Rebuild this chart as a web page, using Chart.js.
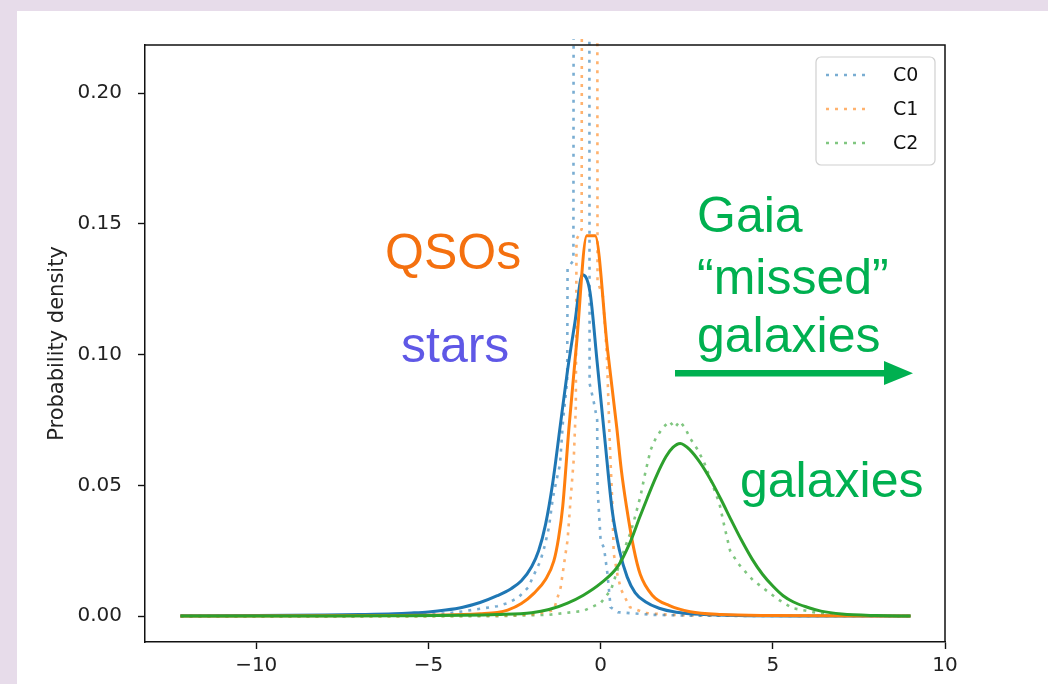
<!DOCTYPE html>
<html>
<head>
<meta charset="utf-8">
<script src="https://cdn.jsdelivr.net/npm/chart.js@4/dist/chart.umd.min.js"></script>
<style>
  html, body { margin: 0; padding: 0; background: #e7dcea; }
  canvas { display: block; }
</style>
</head>
<body>
<canvas id="chart" width="1048" height="684"></canvas>
<script>
// Axis ticks
const xTicks = [-10, -5, 0, 5, 10];
const yTicks = [0, 0.05, 0.10, 0.15, 0.20];

// Fitted densities (solid curves)
const starsFitX = [-12.2, -10, -8, -7, -6, -5.5, -5, -4.5, -4, -3.5, -3, -2.6, -2.3, -2, -1.8, -1.6, -1.39, -1.17, -0.96, -0.75, -0.53, -0.31, -0.1, 0.12, 0.34, 0.55, 0.77, 1.0, 1.3, 1.7, 2.2, 3, 4, 6, 9];
const starsFitY = [0.0001, 0.0002, 0.0004, 0.0006, 0.0009, 0.0012, 0.0016, 0.0023, 0.0034, 0.0052, 0.0078, 0.0105, 0.0135, 0.019, 0.025, 0.035, 0.051, 0.073, 0.094, 0.112, 0.1305, 0.124, 0.097, 0.068, 0.040, 0.025, 0.015, 0.009, 0.0055, 0.003, 0.0015, 0.0006, 0.0002, 0.00005, 0];

const qsoFitX = [-12.2, -8, -6, -5, -4, -3.5, -3, -2.7, -2.3, -1.93, -1.6, -1.36, -1.22, -1.1, -0.92, -0.7, -0.4, -0.16, 0.2, 0.47, 0.6, 0.75, 0.96, 1.15, 1.5, 2.0, 2.6, 3.5, 5, 9];
const qsoFitY = [0, 0.0001, 0.0002, 0.0003, 0.0006, 0.0009, 0.0014, 0.0023, 0.0048, 0.0088, 0.014, 0.021, 0.030, 0.042, 0.072, 0.104, 0.1455, 0.1455, 0.102, 0.072, 0.056, 0.042, 0.026, 0.016, 0.008, 0.004, 0.0017, 0.0006, 0.0002, 0];

const galaxyFitX = [-12.2, -8, -6, -4, -3, -2, -1.5, -0.96, -0.5, 0, 0.5, 0.85, 1.14, 1.35, 1.6, 1.9, 2.1, 2.31, 2.6, 2.9, 3.2, 3.5, 3.8, 4.1, 4.4, 4.7, 5.0, 5.3, 5.6, 6.0, 6.4, 7, 8, 9];
const galaxyFitY = [0, 0, 0.0001, 0.0003, 0.0006, 0.0013, 0.0025, 0.005, 0.008, 0.0125, 0.019, 0.028, 0.038, 0.045, 0.053, 0.061, 0.0645, 0.066, 0.0635, 0.0585, 0.052, 0.0445, 0.0365, 0.0288, 0.0218, 0.016, 0.0115, 0.0078, 0.0054, 0.0034, 0.0019, 0.0008, 0.0002, 0];

// Binned densities of the samples (dotted curves)
const starsHistX = [-12.2, -7, -5.5, -4.5, -4, -3.5, -3, -2.7, -2.4, -2.1, -1.93, -1.75, -1.62, -1.5, -1.39, -1.28, -1.18, -1.09, -0.97, -0.96, -0.79, -0.78, -0.55, -0.33, -0.32, -0.2, -0.1, -0.09, 0, 0.1, 0.2, 0.29, 0.5, 1, 1.5, 2.5, 4, 9];
const starsHistY = [0, 0.0001, 0.0005, 0.001, 0.0018, 0.0028, 0.0038, 0.005, 0.007, 0.011, 0.016, 0.021, 0.027, 0.034, 0.045, 0.052, 0.058, 0.075, 0.09, 0.133, 0.136, 0.30, 0.33, 0.30, 0.089, 0.082, 0.075, 0.049, 0.029, 0.026, 0.016, 0.0034, 0.0015, 0.001, 0.0005, 0.0002, 0.0001, 0];

const qsoHistX = [-12.2, -5, -3, -2, -1.6, -1.45, -1.36, -1.16, -1.05, -0.96, -0.87, -0.78, -0.72, -0.7, -0.55, -0.54, -0.3, -0.1, -0.09, 0.07, 0.18, 0.27, 0.34, 0.38, 0.5, 0.6, 0.85, 1.3, 2, 3, 9];
const qsoHistY = [0, 0, 0.0002, 0.0006, 0.0015, 0.002, 0.0023, 0.011, 0.021, 0.029, 0.045, 0.06, 0.08, 0.144, 0.148, 0.32, 0.35, 0.31, 0.128, 0.122, 0.10, 0.065, 0.043, 0.024, 0.015, 0.01, 0.0034, 0.0012, 0.0005, 0.0002, 0];

const galaxyHistX = [-12.2, -3, -1.5, -0.5, 0, 0.3, 0.5, 0.7, 0.87, 1.0, 1.16, 1.3, 1.45, 1.6, 1.8, 2.0, 2.15, 2.3, 2.45, 2.6, 2.8, 3.0, 3.2, 3.45, 3.6, 3.76, 4.0, 4.24, 4.42, 4.91, 5.2, 5.58, 6, 6.36, 7, 8, 9];
const galaxyHistY = [0, 0, 0.0005, 0.002, 0.005, 0.01, 0.018, 0.026, 0.032, 0.038, 0.046, 0.055, 0.0635, 0.068, 0.072, 0.0745, 0.072, 0.0745, 0.072, 0.068, 0.064, 0.059, 0.052, 0.043, 0.034, 0.025, 0.020, 0.0164, 0.0138, 0.0088, 0.006, 0.003, 0.002, 0.001, 0.0005, 0.0001, 0];

const legendLabels = ['C0', 'C1', 'C2'];

const BLUE = '#1f77b4', ORANGE = '#ff7f0e', GREEN = '#2ca02c';
const BLUE_D = 'rgba(31,119,180,0.6)', ORANGE_D = 'rgba(255,127,14,0.6)', GREEN_D = 'rgba(44,160,44,0.6)';
const DOT = [3, 6];

const pts = (xs, ys) => xs.map((x, i) => ({ x: x, y: ys[i] }));

function dotted(label, xs, ys, color) {
  return {
    label: label, data: pts(xs, ys), showLine: true, borderColor: color,
    borderWidth: 2.6, borderDash: DOT, pointRadius: 0, fill: false,
    tension: 0, order: 10, clip: { left: 0, top: 6, right: 0, bottom: 0 }
  };
}
function solid(xs, ys, color, order) {
  return {
    label: '', data: pts(xs, ys), showLine: true, borderColor: color,
    borderWidth: 3, pointRadius: 0, fill: false, cubicInterpolationMode: 'monotone',
    order: order, borderJoinStyle: 'round'
  };
}

// Page background, white panel and plot frame
const framePlugin = {
  id: 'frame',
  beforeDraw(chart) {
    const ctx = chart.ctx;
    ctx.save();
    ctx.fillStyle = '#e7dcea';
    ctx.fillRect(0, 0, chart.width, chart.height);
    ctx.fillStyle = '#ffffff';
    ctx.fillRect(17, 11, chart.width - 17, chart.height - 11);
    ctx.restore();
  },
  afterDraw(chart) {
    const { ctx, chartArea: a } = chart;
    ctx.save();
    ctx.strokeStyle = '#111';
    ctx.lineWidth = 1.5;
    ctx.beginPath();
    ctx.moveTo(a.left, a.top);
    ctx.lineTo(a.right, a.top);
    ctx.lineTo(a.right, a.bottom);
    ctx.stroke();
    ctx.restore();
  }
};

// Legend box in the upper right corner of the axes
const legendPlugin = {
  id: 'boxLegend',
  afterDatasetsDraw(chart) {
    const ctx = chart.ctx;
    const colors = [BLUE_D, ORANGE_D, GREEN_D];
    const x0 = 816, y0 = 57, w = 119, h = 108, r = 5;
    ctx.save();
    ctx.beginPath();
    ctx.moveTo(x0 + r, y0);
    ctx.arcTo(x0 + w, y0, x0 + w, y0 + h, r);
    ctx.arcTo(x0 + w, y0 + h, x0, y0 + h, r);
    ctx.arcTo(x0, y0 + h, x0, y0, r);
    ctx.arcTo(x0, y0, x0 + w, y0, r);
    ctx.closePath();
    ctx.fillStyle = 'rgba(255,255,255,0.8)';
    ctx.fill();
    ctx.strokeStyle = '#d0d0d0';
    ctx.lineWidth = 1.2;
    ctx.stroke();
    ctx.font = '19px "DejaVu Sans"';
    ctx.textBaseline = 'middle';
    ctx.textAlign = 'left';
    legendLabels.forEach((lab, i) => {
      const y = 75 + i * 34;
      ctx.strokeStyle = colors[i];
      ctx.lineWidth = 2.6;
      ctx.setLineDash(DOT);
      ctx.beginPath();
      ctx.moveTo(826, y);
      ctx.lineTo(867, y);
      ctx.stroke();
      ctx.setLineDash([]);
      ctx.fillStyle = '#111';
      ctx.fillText(lab, 893, y + 1);
    });
    ctx.restore();
  }
};

// Slide annotations over the plot
const notePlugin = {
  id: 'notes',
  afterDraw(chart) {
    const ctx = chart.ctx;
    ctx.save();
    ctx.font = '50px "Liberation Sans", Arial, sans-serif';
    ctx.textBaseline = 'alphabetic';
    ctx.textAlign = 'left';
    ctx.fillStyle = '#f4700f';
    ctx.fillText('QSOs', 385, 269);
    ctx.fillStyle = '#5f58e6';
    ctx.fillText('stars', 401, 362);
    ctx.fillStyle = '#00b050';
    ctx.fillText('Gaia', 697, 232);
    ctx.fillText('\u201Cmissed\u201D', 697, 294);
    ctx.fillText('galaxies', 697, 352);
    ctx.fillText('galaxies', 740, 497);
    // arrow
    ctx.fillRect(675, 370, 212, 6.5);
    ctx.beginPath();
    ctx.moveTo(884, 361);
    ctx.lineTo(913, 373.2);
    ctx.lineTo(884, 385);
    ctx.closePath();
    ctx.fill();
    ctx.restore();
  }
};

const tickFont = { family: 'DejaVu Sans', size: 20 };
const axisGrid = { display: true, drawOnChartArea: false, drawTicks: true, tickLength: 7, tickWidth: 1.4, tickColor: '#111' };
const axisBorder = { display: true, color: '#111', width: 1.5 };

new Chart(document.getElementById('chart'), {
  type: 'scatter',
  data: {
    datasets: [
      dotted(legendLabels[0], starsHistX, starsHistY, BLUE_D),
      dotted(legendLabels[1], qsoHistX, qsoHistY, ORANGE_D),
      dotted(legendLabels[2], galaxyHistX, galaxyHistY, GREEN_D),
      solid(starsFitX, starsFitY, BLUE, 3),
      solid(qsoFitX, qsoFitY, ORANGE, 2),
      solid(galaxyFitX, galaxyFitY, GREEN, 1)
    ]
  },
  options: {
    responsive: false,
    animation: false,
    devicePixelRatio: 1,
    layout: { padding: { left: 0, top: 45, right: 103, bottom: 0 } },
    plugins: { legend: { display: false }, tooltip: { enabled: false } },
    scales: {
      x: {
        type: 'linear', min: -13.23, max: 10.0,
        afterBuildTicks(s) { s.ticks = xTicks.map(v => ({ value: v })); },
        afterFit(s) { s.height = 42; },
        grid: axisGrid, border: axisBorder,
        ticks: {
          font: tickFont, color: '#222', padding: 5, maxRotation: 0,
          callback: v => (v < 0 ? '\u2212' + Math.abs(v) : String(v))
        }
      },
      y: {
        type: 'linear', min: -0.0099, max: 0.2184,
        afterBuildTicks(s) { s.ticks = yTicks.map(v => ({ value: v })); },
        afterFit(s) { s.width = 145; },
        grid: axisGrid, border: axisBorder,
        ticks: { font: tickFont, color: '#222', padding: 16, callback: v => v.toFixed(2) },
        title: {
          display: true, text: 'Probability density', color: '#222',
          font: { family: 'DejaVu Sans', size: 21 }, padding: { top: 45, bottom: 0 }
        }
      }
    }
  },
  plugins: [framePlugin, legendPlugin, notePlugin]
});
</script>
</body>
</html>
